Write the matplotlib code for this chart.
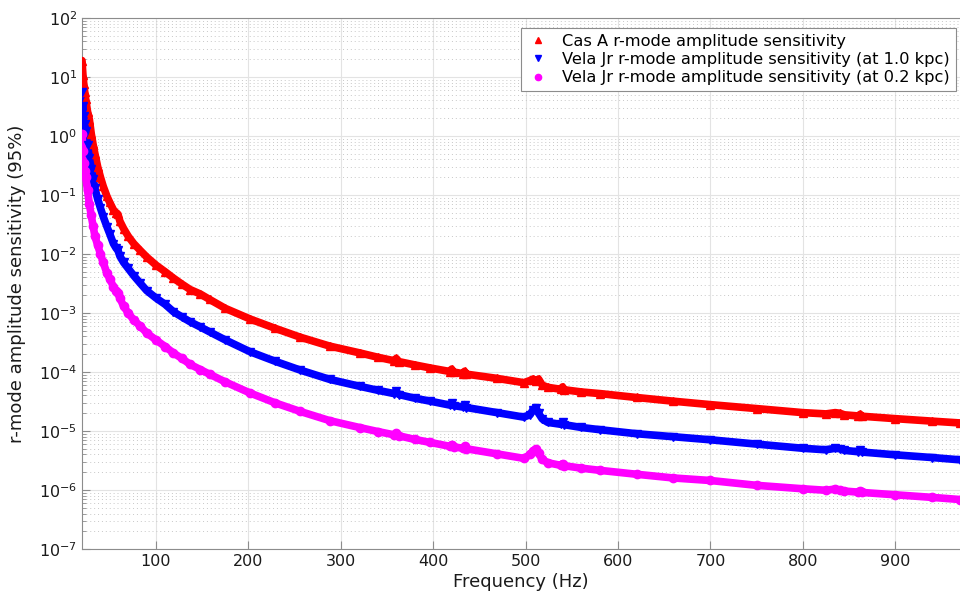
import matplotlib
matplotlib.use("Agg")
import matplotlib.pyplot as plt
from matplotlib.ticker import LogLocator, NullFormatter, MultipleLocator, FixedLocator

freq = [20, 21, 22, 23, 24, 26, 28, 30, 32, 34, 37, 40, 43, 47, 50, 54, 57, 59, 61, 65,
        70, 76, 83, 90, 100, 110, 119, 128, 137, 148, 158, 175, 202, 229, 256, 288, 321,
        340, 358, 360, 363, 380, 397, 418, 420, 422, 432, 434, 436, 469, 498, 505, 508,
        511, 514, 518, 524, 538, 540, 542, 560, 581, 620, 660, 700, 750, 800, 825, 835,
        840, 845, 860, 862, 864, 900, 940, 970]

cas_a = [19, 11, 7.5, 5.5, 4.2, 2.6, 1.9, 1.1, 0.72, 0.50,
         0.30, 0.20, 0.14, 0.095, 0.075, 0.056, 0.050, 0.047, 0.036, 0.027,
         0.020, 0.015, 0.0115, 0.0089, 0.0065, 0.0050, 0.0039, 0.0031, 0.0025, 0.0021,
         0.0017, 0.0012, 7.9e-4, 5.5e-4, 3.9e-4, 2.75e-4, 2.1e-4, 1.78e-4, 1.55e-4, 1.7e-4,
         1.5e-4, 1.32e-4, 1.17e-4, 1.02e-4, 1.12e-4, 1.0e-4, 9.4e-5, 1.03e-4, 9.2e-5, 7.8e-5,
         6.6e-5, 7.2e-5, 7.6e-5, 7.0e-5, 7.6e-5, 6.0e-5, 5.5e-5, 5.1e-5, 5.6e-5, 5.0e-5,
         4.6e-5, 4.3e-5, 3.7e-5, 3.2e-5, 2.8e-5, 2.4e-5, 2.05e-5, 1.95e-5, 2.05e-5, 2.0e-5,
         1.88e-5, 1.8e-5, 1.92e-5, 1.78e-5, 1.62e-5, 1.47e-5, 1.37e-5]

vela_1kpc = [5.5, 3.2, 2.2, 1.6, 1.2, 0.7, 0.42, 0.28, 0.19, 0.13,
             0.085, 0.06, 0.043, 0.029, 0.022, 0.015, 0.0125, 0.0115, 0.0092, 0.0072,
             0.0057, 0.0043, 0.0032, 0.0024, 0.0018, 0.0014, 0.00105, 8.6e-4, 7.1e-4, 5.8e-4,
             4.8e-4, 3.5e-4, 2.2e-4, 1.52e-4, 1.08e-4, 7.5e-5, 5.7e-5, 4.9e-5, 4.3e-5, 4.7e-5,
             4.15e-5, 3.6e-5, 3.2e-5, 2.75e-5, 3.0e-5, 2.7e-5, 2.55e-5, 2.8e-5, 2.5e-5, 2.05e-5,
             1.72e-5, 1.9e-5, 2.3e-5, 2.5e-5, 2.0e-5, 1.6e-5, 1.4e-5, 1.3e-5, 1.42e-5, 1.28e-5,
             1.15e-5, 1.05e-5, 9.0e-6, 8.0e-6, 7.1e-6, 6.0e-6, 5.1e-6, 4.8e-6, 5.1e-6, 5.0e-6,
             4.7e-6, 4.45e-6, 4.7e-6, 4.4e-6, 3.95e-6, 3.55e-6, 3.25e-6]

vela_02kpc = [1.1, 0.55, 0.35, 0.26, 0.2, 0.12, 0.07, 0.045, 0.03, 0.02,
              0.014, 0.010, 0.0072, 0.0047, 0.0038, 0.0028, 0.0024, 0.0022, 0.0018, 0.0013,
              0.0010, 7.6e-4, 6.0e-4, 4.6e-4, 3.5e-4, 2.7e-4, 2.1e-4, 1.7e-4, 1.35e-4, 1.1e-4,
              9.2e-5, 6.8e-5, 4.4e-5, 3.0e-5, 2.15e-5, 1.5e-5, 1.14e-5, 9.8e-6, 8.6e-6, 9.3e-6,
              8.3e-6, 7.2e-6, 6.4e-6, 5.5e-6, 5.9e-6, 5.4e-6, 5.1e-6, 5.5e-6, 5.0e-6, 4.1e-6,
              3.44e-6, 4.0e-6, 4.6e-6, 5.0e-6, 4.2e-6, 3.3e-6, 2.9e-6, 2.62e-6, 2.8e-6, 2.58e-6,
              2.35e-6, 2.15e-6, 1.85e-6, 1.6e-6, 1.45e-6, 1.2e-6, 1.05e-6, 0.99e-6, 1.04e-6, 1.0e-6,
              0.96e-6, 0.92e-6, 0.96e-6, 0.91e-6, 8.3e-7, 7.5e-7, 6.9e-7]

series = [
    ("Cas A r-mode amplitude sensitivity", cas_a, "#ff0000", "^"),
    ("Vela Jr r-mode amplitude sensitivity (at 1.0 kpc)", vela_1kpc, "#0000ff", "v"),
    ("Vela Jr r-mode amplitude sensitivity (at 0.2 kpc)", vela_02kpc, "#ff00ff", "o"),
]
y_ticks = [1e-7, 1e-6, 1e-5, 1e-4, 1e-3, 1e-2, 1e-1, 1e0, 1e1, 1e2]

plt.rcParams["font.family"] = "DejaVu Sans"
fig = plt.figure(figsize=(9.6, 5.98), dpi=100)
ax = fig.add_axes([0.0854, 0.0819, 0.9146, 0.888])

for label, vals, color, marker in series:
    ax.plot(freq, vals, color=color, lw=5.5, solid_capstyle="round", zorder=3)
    ax.plot(freq, vals, color=color, ls="none", marker=marker, ms=6, zorder=4, label=label)

ax.set_yscale("log")
ax.set_xlim(20, 970)
ax.set_ylim(1e-7, 1e2)
ax.xaxis.set_major_locator(MultipleLocator(100))
ax.yaxis.set_major_locator(FixedLocator(y_ticks))
ax.yaxis.set_minor_locator(LogLocator(base=10, subs=range(2, 10), numticks=20))
ax.yaxis.set_minor_formatter(NullFormatter())

ax.grid(True, which="major", color="#e3e3e3", lw=0.8, zorder=0)
ax.grid(True, which="minor", axis="y", color="#c8c8c8", lw=0.7, ls=(0, (1, 3)), zorder=0)
ax.set_axisbelow(True)

for side in ["left", "bottom", "top"]:
    ax.spines[side].set_color("#8c8c8c")
ax.spines["right"].set_visible(False)
ax.tick_params(which="both", direction="in", colors="#8c8c8c", labelcolor="#1a1a1a",
               labelsize=11.5, top=False, right=False)
ax.tick_params(which="major", length=6)
ax.tick_params(which="minor", length=3)

ax.set_xlabel("Frequency (Hz)", fontsize=13, color="#1a1a1a", labelpad=3)
ax.set_ylabel("r-mode amplitude sensitivity (95%)", fontsize=13, color="#1a1a1a")
ax.yaxis.set_label_coords(-0.064, 0.5)

leg = ax.legend(loc="upper right", bbox_to_anchor=(0.995, 0.981), borderaxespad=0,
                fontsize=11.7, markerscale=0.75, handlelength=1.4, handletextpad=0.8,
                borderpad=0.35, labelspacing=0.2, fancybox=False, framealpha=1,
                edgecolor="#8c8c8c")
leg.get_frame().set_linewidth(0.8)

fig.savefig("out.png", dpi=100)
